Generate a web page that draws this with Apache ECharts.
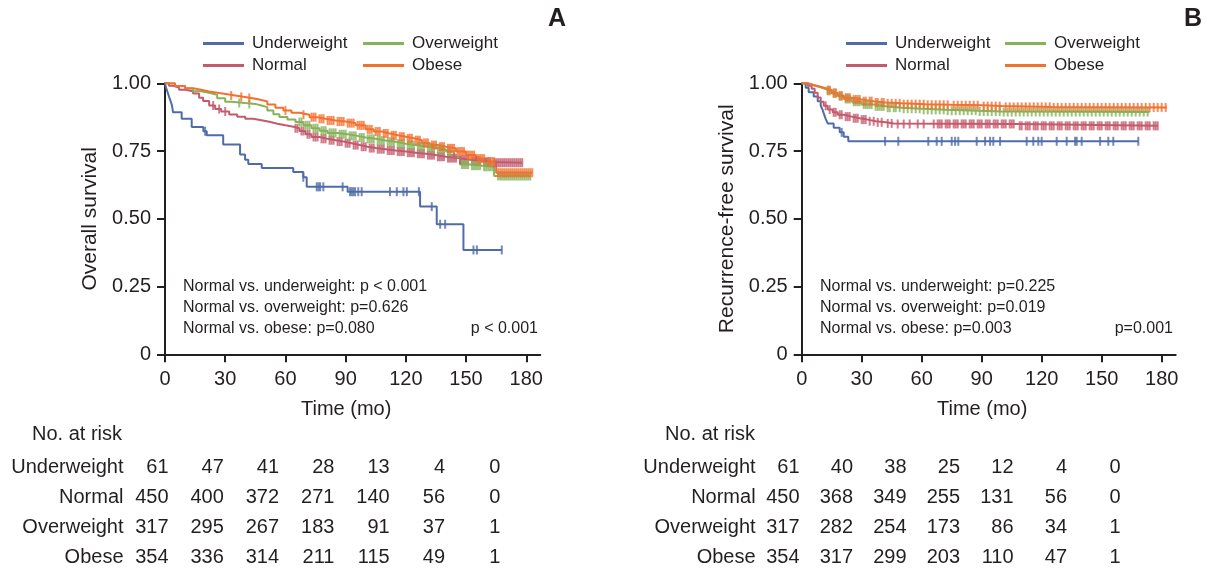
<!DOCTYPE html>
<html><head><meta charset="utf-8">
<script src="https://cdn.jsdelivr.net/npm/echarts@6/dist/echarts.min.js"></script>
<style>html,body{margin:0;padding:0;background:#fff}#c{width:1207px;height:572px}</style>
</head><body><div id="c"></div><script>
// ---------- data ----------
const GROUPS = ['Underweight', 'Normal', 'Overweight', 'Obese'];
const X_TICKS = [0, 30, 60, 90, 120, 150, 180];
const Y_TICKS = [0, 0.25, 0.5, 0.75, 1];
const Y_TICK_LABELS = ['0', '0.25', '0.50', '0.75', '1.00'];

// Panel A: overall survival, Kaplan-Meier steps [month, survival]
const osUnder = [[0,1],[0.5,0.984],[1.3,0.967],[2,0.951],[2.8,0.934],[3.5,0.918],[4,0.893],[8.3,0.869],[13.3,0.839],[19.1,0.823],[20.8,0.808],[29,0.774],[37.4,0.737],[39.9,0.718],[41.5,0.702],[48.2,0.687],[63.9,0.673],[68.9,0.653],[70.6,0.618],[91,0.600],[127.1,0.545],[135.4,0.480],[148.7,0.385],[167.8,0.385]];
const osNormal = [[0,1],[2,0.991],[4,0.984],[7,0.976],[10,0.971],[14,0.962],[17,0.947],[19,0.935],[22,0.918],[25,0.905],[28,0.896],[32,0.885],[36,0.877],[40,0.869],[44,0.864],[48,0.858],[52,0.851],[56,0.845],[60,0.840],[64,0.834],[67,0.824],[70,0.812],[73,0.802],[77,0.795],[81,0.790],[85,0.785],[89,0.779],[93,0.772],[97,0.766],[101,0.761],[105,0.757],[110,0.752],[115,0.748],[120,0.744],[125,0.740],[130,0.735],[135,0.729],[140,0.724],[146,0.718],[152,0.714],[158,0.710],[163,0.707],[178,0.707]];
const osOver = [[0,1],[5,0.990],[10,0.981],[14,0.971],[18,0.965],[22,0.958],[26,0.945],[30,0.932],[33,0.927],[40,0.924],[45,0.918],[48,0.912],[51,0.900],[54,0.886],[57,0.876],[61,0.866],[65,0.857],[69,0.845],[73,0.834],[77,0.825],[81,0.817],[86,0.812],[91,0.806],[96,0.800],[100,0.795],[105,0.789],[110,0.784],[115,0.777],[120,0.772],[125,0.767],[130,0.762],[135,0.756],[140,0.748],[144,0.728],[147,0.700],[152,0.696],[158,0.692],[164,0.658],[182,0.658]];
const osObese = [[0,1],[5,0.990],[10,0.982],[14,0.976],[18,0.970],[22,0.964],[27,0.960],[31,0.955],[35,0.950],[39,0.946],[43,0.940],[47,0.933],[51,0.922],[55,0.910],[59,0.900],[63,0.891],[67,0.884],[72,0.875],[76,0.869],[80,0.863],[85,0.859],[90,0.853],[95,0.845],[100,0.830],[104,0.822],[108,0.815],[112,0.808],[116,0.803],[120,0.797],[124,0.790],[128,0.780],[132,0.772],[136,0.766],[140,0.760],[145,0.748],[150,0.735],[155,0.722],[160,0.711],[165,0.670],[183,0.670]];

// censored marks: [survival, [months...]]
const osUnderCens = [[0.823,[20]],[0.653,[68.9]],[0.618,[75.6,76.5,77.3,78.9,88.5]],[0.600,[92.2,93,93.8,94.7,96.3,98,112.1,115.5,118.8,120.5,126.5]],[0.545,[132.9]],[0.480,[137.1,139.6]],[0.385,[153.7,155.4,167.8]]];
const osNormalCens = [[0.918,[24]],[0.905,[27]],[0.896,[30]],[0.834,[65,66]],[0.824,[68,69]],[0.812,[71,72]],[0.802,[74,75,76]],[0.795,[78,79,80]],[0.790,[82,83,84]],[0.785,[86,87,88]],[0.779,[90,91,92]],[0.772,[94,95,96]],[0.766,[98,99,100]],[0.761,[102,103,104]],[0.757,[106,107,108,109]],[0.752,[111,112,113,114]],[0.748,[116,117,118,119]],[0.744,[121,122,123,124]],[0.740,[126,127,128,129]],[0.735,[131,132,133,134]],[0.729,[136,137,138,139]],[0.724,[141,142,143,144,145]],[0.718,[147,148,149,150,151]],[0.714,[153,154,155,156,157]],[0.710,[159,160,161,162]],[0.707,[164,165,166,167,168,169,170,171,172,173,174,175,176,177,178]]];
const osOverCens = [[0.927,[37]],[0.924,[42]],[0.857,[67,68]],[0.845,[70,71,72]],[0.834,[74,75,76]],[0.825,[78,79,80]],[0.817,[82,83,84,85]],[0.812,[87,88,89,90]],[0.806,[92,93,94,95]],[0.800,[97,98,99]],[0.795,[101,102,103,104]],[0.789,[106,107,108,109]],[0.784,[111,112,113,114]],[0.777,[116,117,118,119]],[0.772,[121,122,123,124]],[0.767,[126,127,128,129]],[0.762,[131,132,133,134]],[0.756,[136,137,138,139]],[0.748,[141,142]],[0.700,[148,149,150,151]],[0.696,[153,154,155,156,157]],[0.692,[159,160,161,162,163]],[0.658,[166,167,168,169,170,171,172,173,174,175,176,177,178,179,180,181,182]]];
const osObeseCens = [[0.955,[33]],[0.950,[38]],[0.946,[42]],[0.900,[60]],[0.884,[69]],[0.875,[73,74,75]],[0.869,[77,78,79]],[0.863,[81,82,83,84]],[0.859,[86,87,88,89]],[0.853,[91,92,93,94]],[0.845,[96,97,98,99]],[0.830,[101,102,103]],[0.822,[105,106,107]],[0.815,[109,110,111]],[0.808,[113,114,115]],[0.803,[117,118,119]],[0.797,[121,122,123]],[0.790,[125,126,127]],[0.780,[129,130,131]],[0.772,[133,134,135]],[0.766,[137,138,139]],[0.760,[141,142,143,144]],[0.748,[146,147,148,149]],[0.735,[151,152,153,154]],[0.722,[156,157,158,159]],[0.711,[161,162,163,164]],[0.670,[166,167,168,169,170,171,172,173,174,175,176,177,178,179,180,181,182,183]]];

// Panel B: recurrence-free survival
const rfsUnder = [[0,1],[2,0.984],[3.5,0.967],[6,0.951],[8,0.934],[9.5,0.918],[10.5,0.901],[11.2,0.885],[12,0.869],[13,0.852],[16,0.836],[19,0.819],[21,0.803],[23.3,0.786],[168.3,0.786]];
const rfsNormal = [[0,1],[3,0.991],[5,0.980],[6.5,0.965],[8,0.948],[9.5,0.932],[11,0.917],[13,0.903],[15.5,0.893],[18,0.884],[21,0.877],[25,0.871],[29,0.866],[33,0.860],[37,0.856],[42,0.852],[46,0.850],[108,0.843],[178,0.843]];
const rfsOver = [[0,1],[3,0.993],[6,0.986],[9,0.979],[12,0.972],[15,0.962],[18,0.952],[21,0.942],[25,0.932],[30,0.922],[36,0.915],[42,0.910],[50,0.906],[60,0.902],[72,0.899],[88,0.896],[100,0.894],[174,0.894]];
const rfsObese = [[0,1],[3,0.994],[6,0.988],[9,0.982],[12,0.975],[15,0.965],[18,0.955],[21,0.947],[25,0.940],[30,0.934],[36,0.929],[42,0.926],[50,0.923],[62,0.921],[75,0.919],[90,0.916],[100,0.913],[125,0.911],[182.5,0.911]];

const rfsUnderCens = [[0.819,[20]],[0.786,[41.7,48.3,63.3,67.5,70,75,76.7,78.3,87.5,91.7,94.2,95.8,99.2,112.5,115.8,118.3,120,127.5,132.5,136.7,137.5,140,149.2,153.3,155.8,168.3]]];
const rfsNormalCens = [[0.917,[12]],[0.903,[14]],[0.893,[16,17]],[0.884,[19,20]],[0.877,[22,23,24]],[0.871,[26,27,28]],[0.866,[30,31,32]],[0.860,[34,36]],[0.856,[38,40]],[0.852,[43,45]],[0.850,[48,51,54,58,61,66,68,69,70,72,73,74,76,77,78,80,81,82,84,85,86,88,89,90,92,93,94,96,97,98,100,101,102,104,105,106]],[0.843,[109,110,112,113,114,116,117,118,120,121,122,124,125,126,128,129,130,132,133,134,136,137,138,140,141,142,144,145,146,148,149,150,152,153,154,156,157,158,160,161,162,164,165,166,168,169,170,172,173,174,176,177,178]]];
const rfsOverCens = [[0.972,[13,14]],[0.962,[16,17]],[0.952,[19,20]],[0.942,[22,23,24]],[0.932,[26,27,28,29]],[0.922,[31,32,33,34,35]],[0.915,[37,38,39,40,41]],[0.910,[43,44,46,47,49]],[0.906,[51,53,55,57,59]],[0.902,[61,63,65,67,69,71]],[0.899,[73,75,77,79,81,83,85,87]],[0.896,[89,91,93,95,97,99]],[0.894,[101,103,105,107,109,111,113,115,117,119,121,123,125,127,129,131,133,135,137,139,141,143,145,147,149,151,153,155,157,159,161,163,165,167,169,171,173]]];
const rfsObeseCens = [[0.975,[13,14]],[0.965,[16,17]],[0.955,[19,20]],[0.947,[22,23,24]],[0.940,[26,27,28,29]],[0.934,[31,32,34,35]],[0.929,[37,38,40,41]],[0.926,[43,45,47,49]],[0.923,[51,53,55,57,59,61]],[0.921,[63,65,67,69,71,73]],[0.919,[76,78,80,82,84,86,88]],[0.916,[91,93,95,97,99]],[0.913,[102,104,106,108,110,112,114,116,118,120,122,124]],[0.911,[126,128,130,132,134,136,138,140,142,144,146,148,150,152,154,156,158,160,162,164,166,168,170,172,174,176,178,180,182]]];

// Numbers at risk (columns at 0,30,...,180 months)
const riskA_under = [61,47,41,28,13,4,0];
const riskA_normal = [450,400,372,271,140,56,0];
const riskA_over = [317,295,267,183,91,37,1];
const riskA_obese = [354,336,314,211,115,49,1];
const riskB_under = [61,40,38,25,12,4,0];
const riskB_normal = [450,368,349,255,131,56,0];
const riskB_over = [317,282,254,173,86,34,1];
const riskB_obese = [354,317,299,203,110,47,1];

const notesA = ['Normal vs. underweight: p < 0.001', 'Normal vs. overweight: p=0.626', 'Normal vs. obese: p=0.080'];
const overallA = 'p < 0.001';
const notesB = ['Normal vs. underweight: p=0.225', 'Normal vs. overweight: p=0.019', 'Normal vs. obese: p=0.003'];
const overallB = 'p=0.001';

// ---------- style ----------
const FONT = '"Liberation Sans", Arial, sans-serif';
const INK = '#231f20';
const COLORS = {Underweight: '#4f6ca8', Normal: '#c25b6d', Overweight: '#86b25a', Obese: '#f3702f'};

function mainX(gi) {
  return {
    type: 'value', gridIndex: gi, min: 0, max: 187,
    axisLine: {show: true, onZero: false, lineStyle: {color: INK, width: 2}},
    axisTick: {show: true, customValues: X_TICKS, length: 8, lineStyle: {color: INK, width: 2}},
    axisLabel: {customValues: X_TICKS, margin: 15, fontSize: 20, color: INK, fontFamily: FONT,
      formatter: v => (v % 30 === 0 ? String(v) : '')},
    splitLine: {show: false},
    name: 'Time (mo)', nameLocation: 'middle', nameGap: 45,
    nameTextStyle: {fontSize: 20, color: INK, fontFamily: FONT, padding: [0, 13, 0, 0]}
  };
}
function mainY(gi, title) {
  return {
    type: 'value', gridIndex: gi, min: 0, max: 1, interval: 0.25,
    axisLine: {show: true, onZero: false, lineStyle: {color: INK, width: 2}},
    axisTick: {show: true, length: 8, lineStyle: {color: INK, width: 2}},
    axisLabel: {margin: 14, fontSize: 20, color: INK, fontFamily: FONT,
      formatter: v => Y_TICK_LABELS[Y_TICKS.indexOf(v)]},
    splitLine: {show: false},
    name: title, nameLocation: 'middle', nameGap: 64, nameRotate: 90,
    nameTextStyle: {fontSize: 21, color: INK, fontFamily: FONT}
  };
}
function flatCens(groups) {
  const out = [];
  groups.forEach(([s, ts]) => ts.forEach(t => out.push([t, s])));
  return out;
}
function km(name, steps, cens, ai) {
  const c = COLORS[name];
  return [
    {type: 'line', name, xAxisIndex: ai, yAxisIndex: ai, data: steps, step: 'end',
      symbol: 'none', showSymbol: false, lineStyle: {width: 2, color: c}, itemStyle: {color: c}, z: 2, silent: true},
    {type: 'scatter', name: name + ' censored', xAxisIndex: ai, yAxisIndex: ai, data: flatCens(cens),
      symbol: 'rect', symbolSize: [2, 9], itemStyle: {color: c}, z: 3, silent: true}
  ];
}
function riskSeries(ai, rows) {
  const data = [];
  rows.forEach((vals, r) => vals.forEach((v, i) => data.push([i, GROUPS[r], v])));
  return {type: 'scatter', xAxisIndex: ai, yAxisIndex: ai, data, symbol: 'circle', symbolSize: 0,
    itemStyle: {color: INK, opacity: 1}, silent: true,
    label: {show: true, position: 'left', distance: 0, formatter: p => String(p.value[2]),
      fontSize: 20, color: INK, opacity: 1, textBorderWidth: 0, fontFamily: FONT}};
}
function riskY(gi, margin) {
  return {type: 'category', gridIndex: gi, data: GROUPS, inverse: true,
    axisLine: {show: false}, axisTick: {show: false}, splitLine: {show: false},
    axisLabel: {fontSize: 20, color: INK, fontFamily: FONT, margin}};
}
function legendCol(left, names) {
  return {left, top: 35, orient: 'vertical', itemGap: 5, padding: 0, selectedMode: false,
    icon: 'rect', itemWidth: 41, itemHeight: 3, data: names,
    textStyle: {fontSize: 17, color: INK, fontFamily: FONT, padding: [0, 0, 0, 3]}};
}
function txt(x, y, text, size, align, weight) {
  return {type: 'text', x, y, silent: true,
    style: {text, fontSize: size, fontFamily: FONT, fontWeight: weight || 'normal', fill: INK,
      align: align || 'left', textAlign: align || 'left', verticalAlign: 'middle', textVerticalAlign: 'middle'}};
}

const graphics = [
  txt(557, 19, 'A', 25, 'center', 'bold'),
  txt(1193, 19, 'B', 25, 'center', 'bold'),
  txt(122, 434, 'No. at risk', 20, 'right'),
  txt(755, 434, 'No. at risk', 20, 'right'),
  txt(538, 329, overallA, 16, 'right'),
  txt(1173, 329, overallB, 16, 'right')
];
notesA.forEach((t, i) => graphics.push(txt(183, 287 + i * 21, t, 16, 'left')));
notesB.forEach((t, i) => graphics.push(txt(820, 287 + i * 21, t, 16, 'left')));

const option = {
  animation: false,
  backgroundColor: '#fff',
  textStyle: {fontFamily: FONT},
  grid: [
    {left: 165, top: 83.3, width: 375.3, height: 271, containLabel: false},
    {left: 801.7, top: 83.3, width: 374, height: 271, containLabel: false},
    {left: 168.5, top: 453, width: 331.8, height: 120, containLabel: false},
    {left: 799.6, top: 453, width: 321, height: 120, containLabel: false}
  ],
  xAxis: [mainX(0), mainX(1),
    {type: 'value', gridIndex: 2, min: 0, max: 6, show: false},
    {type: 'value', gridIndex: 3, min: 0, max: 6, show: false}],
  yAxis: [mainY(0, 'Overall survival'), mainY(1, 'Recurrence-free survival'),
    riskY(2, 45), riskY(3, 44)],
  legend: [legendCol(203, ['Underweight', 'Normal']), legendCol(363, ['Overweight', 'Obese']),
    legendCol(846, ['Underweight', 'Normal']), legendCol(1005, ['Overweight', 'Obese'])],
  graphic: graphics,
  series: [].concat(
    km('Underweight', osUnder, osUnderCens, 0),
    km('Normal', osNormal, osNormalCens, 0),
    km('Overweight', osOver, osOverCens, 0),
    km('Obese', osObese, osObeseCens, 0),
    km('Underweight', rfsUnder, rfsUnderCens, 1),
    km('Normal', rfsNormal, rfsNormalCens, 1),
    km('Overweight', rfsOver, rfsOverCens, 1),
    km('Obese', rfsObese, rfsObeseCens, 1),
    [riskSeries(2, [riskA_under, riskA_normal, riskA_over, riskA_obese]),
     riskSeries(3, [riskB_under, riskB_normal, riskB_over, riskB_obese])]
  )
};
echarts.init(document.getElementById('c'), null, {renderer: 'canvas'}).setOption(option);
</script></body></html>
